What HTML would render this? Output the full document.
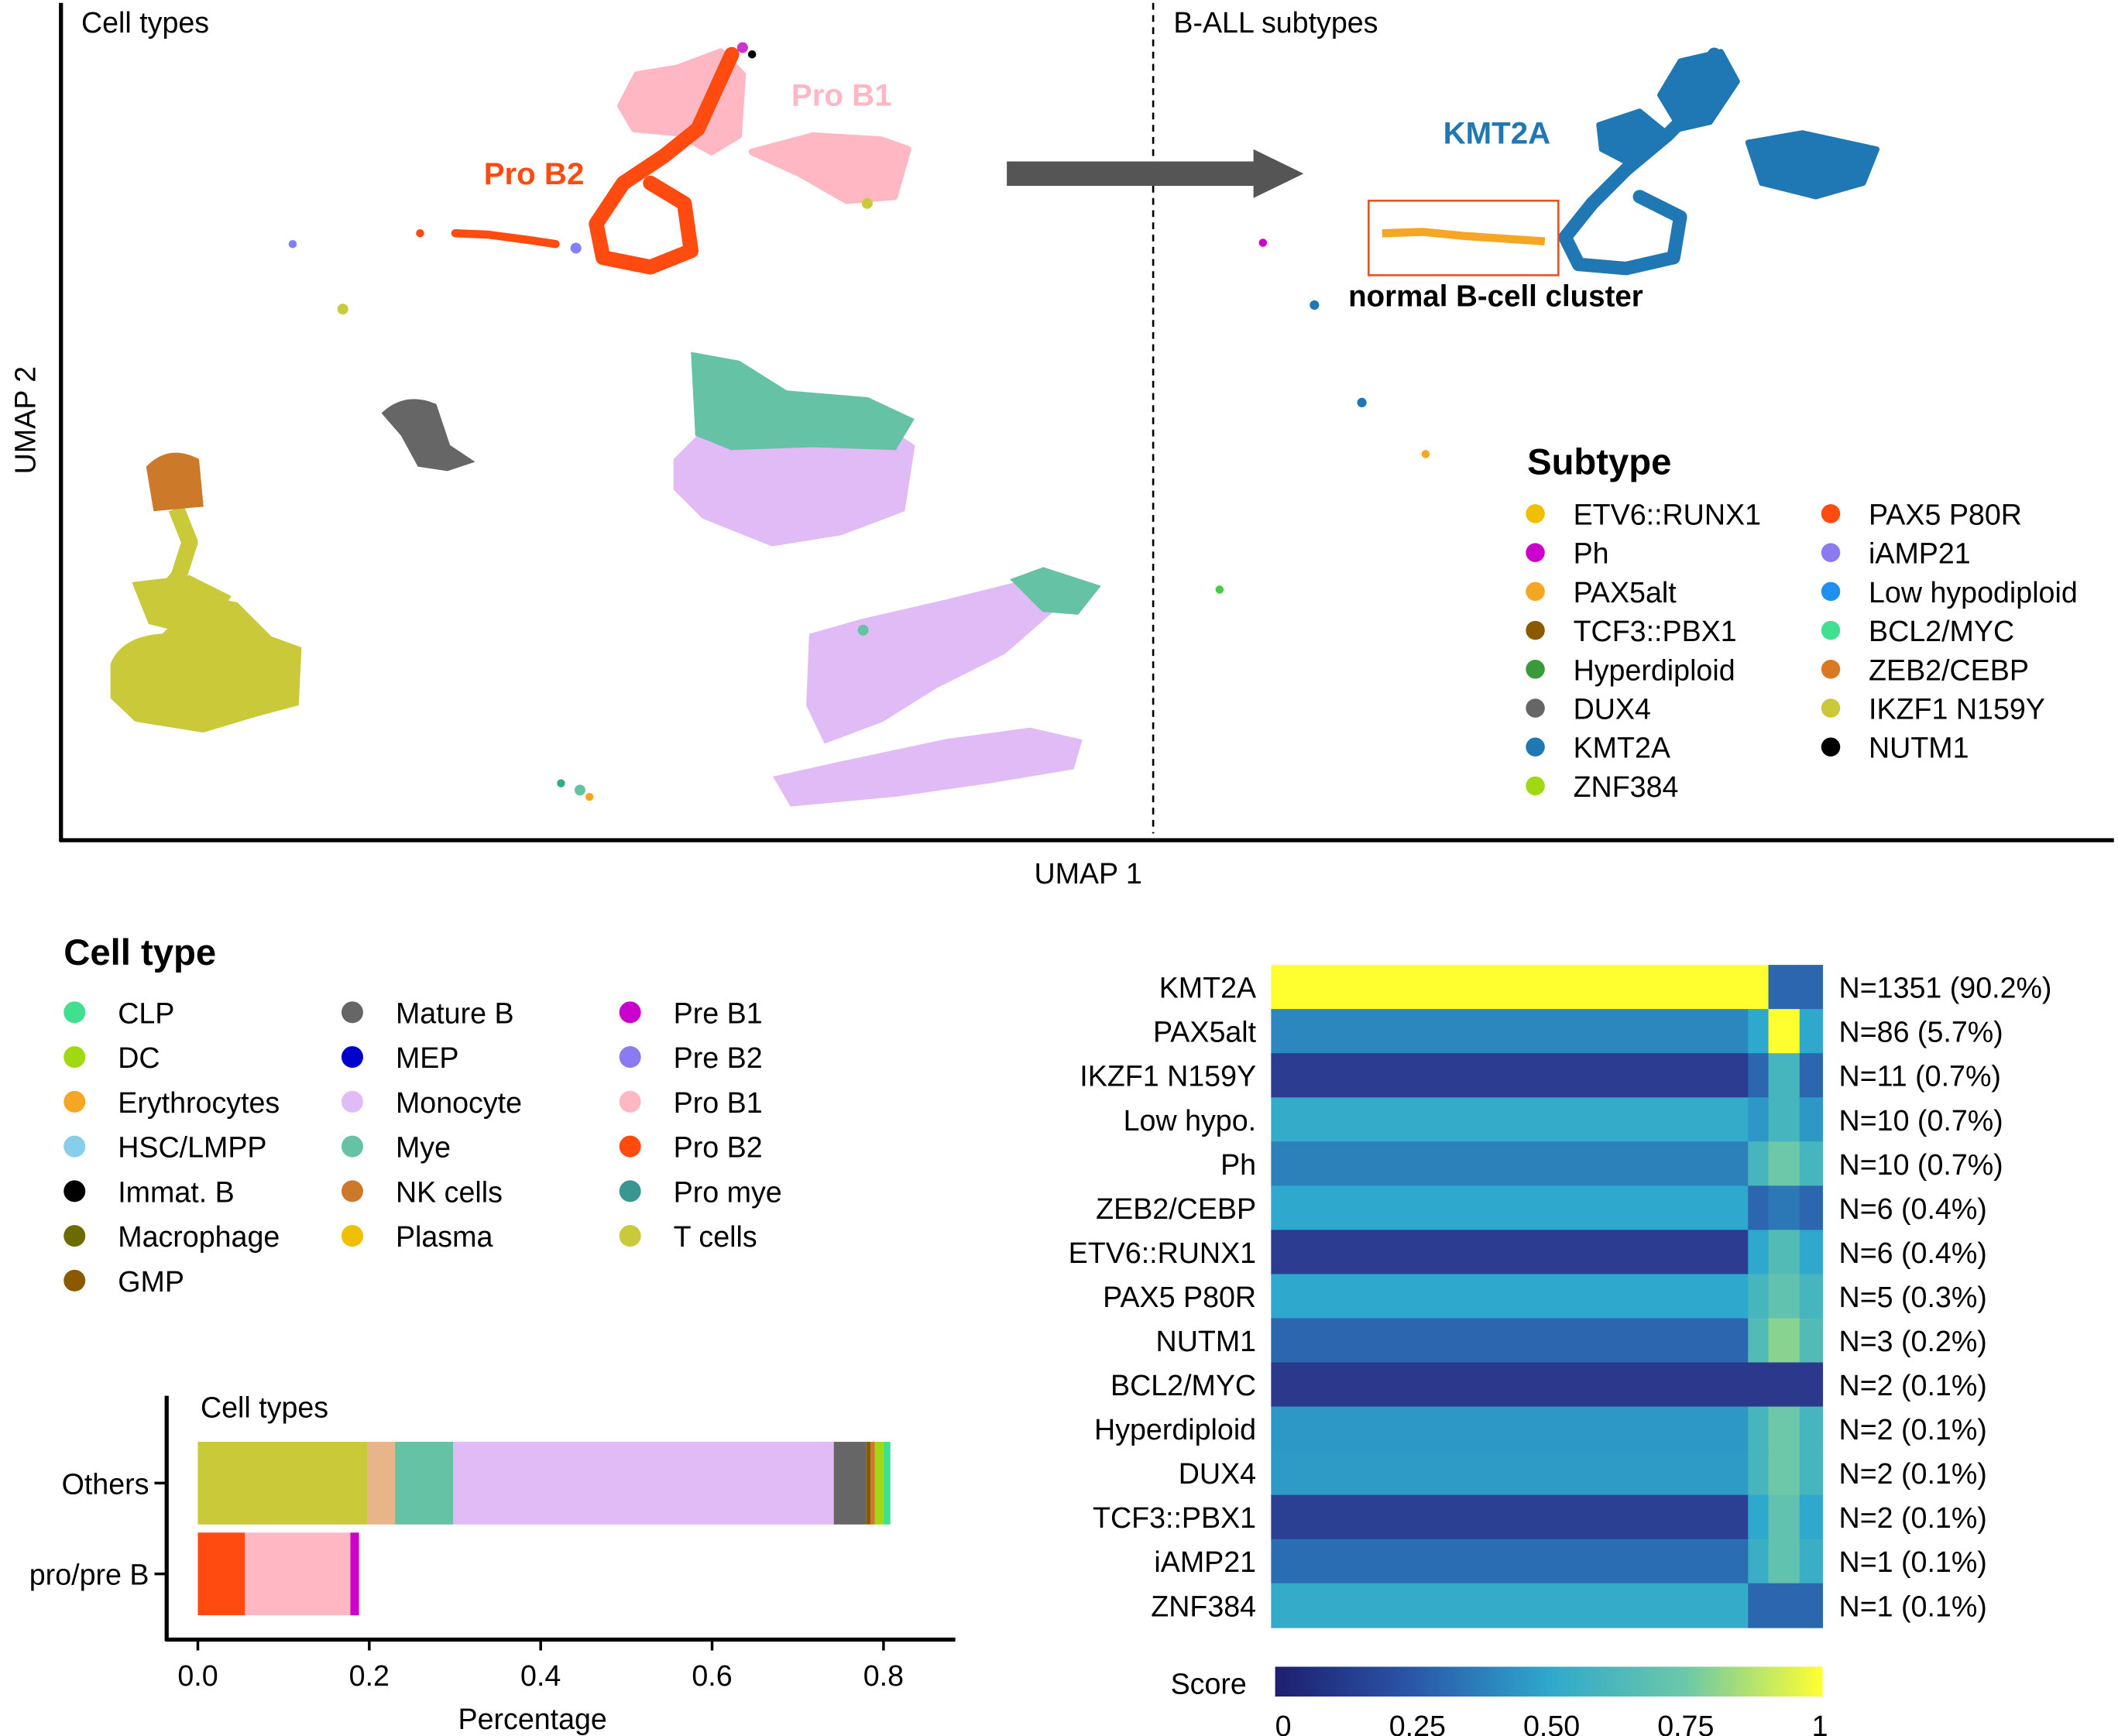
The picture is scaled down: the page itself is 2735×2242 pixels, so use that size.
<!DOCTYPE html>
<html><head><meta charset="utf-8"><style>
html,body{margin:0;padding:0;background:#fff;}
svg{display:block;font-family:"Liberation Sans",Arial,sans-serif;}
</style></head><body>
<svg id="fig" width="2735" height="2242" viewBox="0 0 1563 1281" xmlns="http://www.w3.org/2000/svg">
<rect width="1563" height="1281" fill="#fff"/>
<g>
<line x1="45" y1="2" x2="45" y2="621" stroke="#000" stroke-width="3"/>
<line x1="44" y1="620" x2="1560" y2="620" stroke="#000" stroke-width="3"/>
<line x1="851" y1="2" x2="851" y2="615" stroke="#000" stroke-width="1.5" stroke-dasharray="5,4"/>
<text x="60" y="24" font-size="21.5">Cell types</text>
<text x="866" y="24" font-size="21.5">B-ALL subtypes</text>
<text transform="translate(26,310) rotate(-90)" font-size="21.5" text-anchor="middle">UMAP 2</text>
<text x="803" y="652" font-size="21.5" text-anchor="middle">UMAP 1</text>

<g fill="#c9c93a" stroke="#c9c93a" stroke-linejoin="round">
<path d="M82 490 Q90 470 120 468 L150 440 L175 445 L200 470 L222 478 L220 520 L190 528 L150 540 L100 532 L82 515 Z"/>
<path d="M98 430 L140 425 L170 440 L150 470 L110 460 Z"/>
<polyline points="130,375 140,400 132,425 120,440" fill="none" stroke-width="12"/>
</g>
<path d="M110 345 Q125 330 145 340 L148 372 L115 375 Z" fill="#cc7a29" stroke="#cc7a29" stroke-width="4"/>
<path d="M285 305 Q300 292 320 300 L330 330 L345 340 L330 345 L310 342 L298 320 Z" fill="#666" stroke="#666" stroke-width="5"/>
<path d="M500 340 L520 320 L600 318 L650 315 L672 330 L665 375 L620 392 L570 400 L520 380 L500 360 Z" fill="#e0bbf5" stroke="#e0bbf5" stroke-width="6"/>
<path d="M512 262 L545 268 L580 290 L640 295 L672 310 L660 330 L600 328 L540 330 L515 320 Z" fill="#66c2a5" stroke="#66c2a5" stroke-width="4"/>
<path d="M600 470 L635 460 L700 445 L760 430 L780 445 L740 480 L690 505 L650 530 L610 545 L598 520 Z" fill="#e0bbf5" stroke="#e0bbf5" stroke-width="6"/>
<path d="M575 575 L620 565 L700 548 L760 540 L795 548 L790 565 L730 575 L660 585 L585 592 Z" fill="#e0bbf5" stroke="#e0bbf5" stroke-width="6"/>
<path d="M748 428 L770 420 L810 433 L795 452 L770 450 Z" fill="#66c2a5" stroke="#66c2a5" stroke-width="3"/>
<g fill="#ffb8c3" stroke="#ffb8c3" stroke-linejoin="round" stroke-width="5">
<path d="M458 78 L470 55 L500 50 L532 38 L548 55 L545 100 L525 112 L500 98 L468 95 Z"/>
<path d="M555 112 L600 100 L650 103 L670 110 L660 145 L625 148 L590 128 Z"/>
</g>
<g fill="none" stroke="#ff4a10" stroke-linejoin="round" stroke-linecap="round">
<path d="M540 40 L515 95 L490 115 L460 135 L440 165 L445 190 L480 197 L510 185 L505 150 L480 135" stroke-width="11"/>
<polyline points="336,172 360,173 390,177 410,180" stroke-width="6"/>
</g>
<text x="584" y="78" font-size="23" font-weight="bold" fill="#ffb8c3">Pro B1</text>
<text x="357" y="136" font-size="23" font-weight="bold" fill="#ff4a10">Pro B2</text>
<g>
<circle cx="216" cy="180" r="3" fill="#8080ff"/>
<circle cx="253" cy="228" r="4" fill="#c9c93a"/>
<circle cx="310" cy="172" r="3" fill="#ff4a10"/>
<circle cx="425" cy="183" r="4" fill="#8080ff"/>
<circle cx="428" cy="583" r="4" fill="#66c2a5"/><circle cx="435" cy="588" r="3" fill="#f5a623"/><circle cx="414" cy="578" r="3" fill="#3a8"/>
<circle cx="548" cy="35" r="4" fill="#c3c"/><circle cx="555" cy="40" r="3" fill="#000"/>
<circle cx="637" cy="465" r="4" fill="#66c2a5"/><circle cx="640" cy="150" r="4" fill="#c9c93a"/>
</g>

<path d="M743 119 L925 119 L925 110 L962 128 L925 146 L925 137 L743 137 Z" fill="#555"/>

<g fill="#1f77b4" stroke="#1f77b4" stroke-linejoin="round" stroke-linecap="round">
<path d="M1265 40 L1250 80 L1230 100 L1200 125 L1175 150 L1155 175 L1165 195 L1200 198 L1235 190 L1240 160 L1210 145" fill="none" stroke-width="10"/>
<path d="M1240 45 L1270 38 L1282 60 L1262 90 L1240 95 L1225 70 Z" stroke-width="4"/>
<path d="M1290 105 L1330 98 L1385 110 L1375 135 L1340 145 L1300 135 Z" stroke-width="4"/>
<path d="M1180 92 L1210 82 L1232 100 L1205 122 L1182 110 Z" stroke-width="4"/>
<circle cx="970" cy="225" r="3"/><circle cx="1005" cy="297" r="3"/>
</g>
<rect x="1010" y="148" width="140" height="55" fill="none" stroke="#e8531f" stroke-width="1.5"/>
<polyline points="1020,172 1050,171 1080,174 1110,176 1140,178" fill="none" stroke="#f5a623" stroke-width="6"/>
<circle cx="932" cy="179" r="3" fill="#c0c"/>
<circle cx="1052" cy="335" r="3" fill="#f5a623"/>
<circle cx="900" cy="435" r="3" fill="#4c4"/>
<text x="1065" y="106" font-size="23" font-weight="bold" fill="#1f77b4">KMT2A</text>
<text x="995" y="226" font-size="22" font-weight="bold">normal B-cell cluster</text>
</g>

<g id="subtypeLegend">
<text x="1127" y="350" font-size="27" font-weight="bold">Subtype</text>
</g>
<g id="cellLegend">
<text x="47" y="712" font-size="27" font-weight="bold">Cell type</text>
</g>

<g id="bars">
<line x1="123" y1="1030" x2="123" y2="1211" stroke="#000" stroke-width="3"/>
<line x1="122" y1="1210" x2="705" y2="1210" stroke="#000" stroke-width="3"/>
<text x="148" y="1046" font-size="21.5">Cell types</text>
<text x="393" y="1276" font-size="21.5" text-anchor="middle">Percentage</text>
</g>

<g id="heat">
<defs>
<linearGradient id="cbar" x1="0" x2="1" y1="0" y2="0">
<stop offset="0" stop-color="#1e1f6e"/><stop offset="0.25" stop-color="#2a56a8"/><stop offset="0.5" stop-color="#2ea8cc"/><stop offset="0.75" stop-color="#6cc8a8"/><stop offset="1" stop-color="#ffff30"/>
</linearGradient>
</defs>
<rect x="941" y="1230" width="404" height="22" fill="url(#cbar)"/>
<text x="920" y="1250" font-size="21.5" text-anchor="end">Score</text>
</g>
</svg>
<script>
const NS='http://www.w3.org/2000/svg';
function mk(tag,attrs,parent,txt){const e=document.createElementNS(NS,tag);for(const k in attrs)e.setAttribute(k,attrs[k]);if(txt!==undefined)e.textContent=txt;parent.appendChild(e);return e;}

const subtypeNames=['ETV6::RUNX1','Ph','PAX5alt','TCF3::PBX1','Hyperdiploid','DUX4','KMT2A','ZNF384','PAX5 P80R','iAMP21','Low hypodiploid','BCL2/MYC','ZEB2/CEBP','IKZF1 N159Y','NUTM1'];
const subtypeColors=['#f0c000','#cc00cc','#f5a623','#8b5a00','#3a9a3a','#666666','#1f77b4','#a0d911','#ff4a10','#8a7cf0','#2090f0','#40e090','#d97a20','#c9c93a','#000000'];
const sl=document.getElementById('subtypeLegend');
subtypeNames.forEach((n,i)=>{const col=i<8?0:1,row=i<8?i:i-8;const x=col?1351:1133,y=379+row*28.7;
const g=mk('g',{},sl);


mk('circle',{cx:x,cy:y,r:7,fill:subtypeColors[i]},g);
mk('text',{x:x+28,y:y+8,'font-size':21.5},g,n);});

const cellNames=['CLP','DC','Erythrocytes','HSC/LMPP','Immat. B','Macrophage','GMP','Mature B','MEP','Monocyte','Mye','NK cells','Plasma','Pre B1','Pre B2','Pro B1','Pro B2','Pro mye','T cells'];
const cellColors=['#40e090','#a0d911','#f5a623','#87ceeb','#000000','#6b6b00','#8b5a00','#666666','#0000cc','#e0bbf5','#66c2a5','#cc7a29','#f0c000','#cc00cc','#8a7cf0','#ffb8c3','#ff4a10','#3a9690','#c9c93a'];
const cl=document.getElementById('cellLegend');
const colStart=[0,7,13];const colX=[55,260,465];
cellNames.forEach((n,i)=>{const c=i<7?0:(i<13?1:2);const r=i-colStart[c];const x=colX[c],y=747+r*33;
const g=mk('g',{},cl);


mk('circle',{cx:x,cy:y,r:8,fill:cellColors[i]},g);
mk('text',{x:x+32,y:y+8,'font-size':21.5},g,n);});

const barCategories=['Others','pro/pre B'];
const othersValues=[0.198,0.032,0.068,0.444,0.038,0.005,0.005,0.01,0.008];
const othersColors=['#c9c93a','#e8b48a','#66c2a5','#e0bbf5','#666666','#8b5a00','#cc7a29','#a0d911','#40e090'];
const proValues=[0.055,0.123,0.01];
const proColors=['#ff4a10','#ffb8c3','#cc00cc'];
const xTicks=[0.0,0.2,0.4,0.6,0.8];
const bars=document.getElementById('bars');
const xs=v=>146+v*632.5;
const rowY=[1064,1131],rowH=61;
[othersValues,proValues].forEach((vals,ri)=>{let acc=0;const cols=ri?proColors:othersColors;
vals.forEach((v,j)=>{const r=mk('rect',{x:xs(acc),y:rowY[ri],width:xs(acc+v)-xs(acc),height:rowH,fill:cols[j]},bars);


acc+=v;});
const t=mk('text',{x:110,y:rowY[ri]+rowH/2+8,'font-size':21.5,'text-anchor':'end'},bars,barCategories[ri]);


mk('line',{x1:114,x2:123,y1:rowY[ri]+rowH/2,y2:rowY[ri]+rowH/2,stroke:'#000','stroke-width':2},bars);});
xTicks.forEach(t=>{mk('line',{x1:xs(t),x2:xs(t),y1:1210,y2:1218,stroke:'#000','stroke-width':2},bars);
const tx=mk('text',{x:xs(t),y:1244,'font-size':21.5,'text-anchor':'middle'},bars,t.toFixed(1));

});

const heatRows=['KMT2A','PAX5alt','IKZF1 N159Y','Low hypo.','Ph','ZEB2/CEBP','ETV6::RUNX1','PAX5 P80R','NUTM1','BCL2/MYC','Hyperdiploid','DUX4','TCF3::PBX1','iAMP21','ZNF384'];
const heatCounts=['N=1351 (90.2%)','N=86 (5.7%)','N=11 (0.7%)','N=10 (0.7%)','N=10 (0.7%)','N=6 (0.4%)','N=6 (0.4%)','N=5 (0.3%)','N=3 (0.2%)','N=2 (0.1%)','N=2 (0.1%)','N=2 (0.1%)','N=2 (0.1%)','N=1 (0.1%)','N=1 (0.1%)'];
const heatBaseScore=[1.0,0.40,0.12,0.52,0.38,0.50,0.12,0.50,0.30,0.10,0.45,0.46,0.14,0.32,0.52];
const heatMidScore=[0.3,0.5,0.3,0.45,0.6,0.3,0.5,0.6,0.65,0.1,0.6,0.6,0.5,0.55,0.3];
const heatTailScore=[0.3,1.0,0.6,0.6,0.75,0.35,0.65,0.7,0.8,0.1,0.75,0.75,0.7,0.7,0.3];
const heat=document.getElementById('heat');
function scoreColor(s){const st=[[0,[30,31,110]],[0.1,[44,56,140]],[0.25,[42,86,168]],[0.5,[46,168,204]],[0.75,[108,200,168]],[1,[255,255,48]]];
for(let i=1;i<st.length;i++){if(s<=st[i][0]){const a=st[i-1],b=st[i],f=(s-a[0])/(b[0]-a[0]);return 'rgb('+a[1].map((c,k)=>Math.round(c+(b[1][k]-c)*f)).join(',')+')';}}return 'rgb(255,255,48)';}
const hx0=938,hx1=1345,hy0=712,rowHH=32.6,split1=1290,split2=1305,split3=1328;
heatRows.forEach((n,i)=>{const y=hy0+i*rowHH;
const segs=[[hx0,i===0?split2:split1,heatBaseScore[i]],[i===0?split2:split1,split2,i===0?heatMidScore[i]:heatMidScore[i]],[split2,split3,heatTailScore[i]],[split3,hx1,heatMidScore[i]]];
segs.forEach(s=>{if(s[1]<=s[0])return;
const r=mk('rect',{x:s[0],y:y,width:s[1]-s[0]+0.3,height:rowHH+0.5,fill:scoreColor(s[2])},heat);

});
const t=mk('text',{x:927,y:y+rowHH/2+8,'font-size':21.5,'text-anchor':'end'},heat,n);


const c=mk('text',{x:1357,y:y+rowHH/2+8,'font-size':21.5},heat,heatCounts[i]);

});
const cbTicks=['0','0.25','0.50','0.75','1'];
cbTicks.forEach((t,i)=>{const tx=mk('text',{x:947+i*99,y:1281,'font-size':21.5,'text-anchor':'middle'},heat,t);

});
</script>
</body></html>
